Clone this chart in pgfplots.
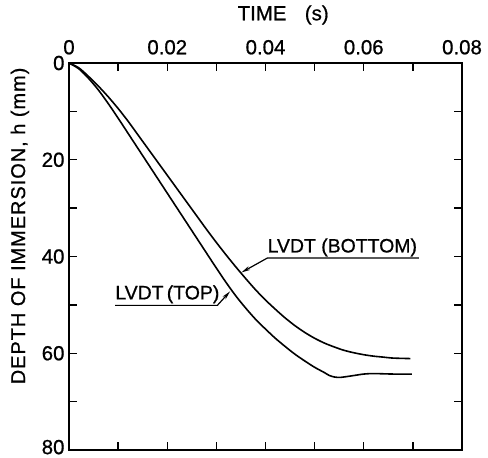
\documentclass[border=0pt]{standalone}
\usepackage{fontspec}
\setmainfont[FakeBold=0.8]{Liberation Sans}
\newfontfamily\spaced[LetterSpace=5,FakeBold=0.8]{Liberation Sans}
\usepackage{pgfplots}
\pgfplotsset{compat=1.18}
\usetikzlibrary{arrows.meta}
\pgfplotstableread{
t h
0 0
0.002 1.2
0.004 3.2
0.006 5.6
0.008 8.4
0.010 11.4
0.012 14.5
0.014 17.6
0.016 20.7
0.018 23.8
0.020 26.9
0.022 30.0
0.024 33.1
0.026 36.2
0.028 39.3
0.030 42.4
0.032 45.4
0.034 48.2
0.036 50.7
0.038 53.0
0.040 55.0
0.042 56.9
0.044 58.6
0.046 60.2
0.048 61.6
0.050 62.9
0.052 64.0
0.053 64.6
0.054 64.9
0.055 65.0
0.056 64.9
0.058 64.6
0.060 64.3
0.062 64.2
0.066 64.3
0.0698 64.3
}\toptable
\pgfplotstableread{
t h
0 0
0.002 1.0
0.004 2.8
0.006 4.8
0.008 7.0
0.010 9.4
0.012 12.0
0.014 14.8
0.016 17.6
0.018 20.4
0.020 23.2
0.022 26.0
0.024 28.8
0.026 31.6
0.028 34.4
0.030 37.1
0.032 39.7
0.034 42.2
0.036 44.6
0.038 46.9
0.040 49.0
0.042 50.9
0.044 52.7
0.046 54.3
0.048 55.7
0.050 56.9
0.052 57.9
0.054 58.7
0.056 59.4
0.058 59.9
0.060 60.3
0.062 60.6
0.064 60.8
0.066 61.0
0.0695 61.1
}\bottomtable
\begin{document}
\begin{tikzpicture}
\begin{axis}[
  scale only axis, width=393bp, height=387bp,
  xmin=0, xmax=0.08, ymin=0, ymax=80, y dir=reverse,
  xtick={0,0.02,0.04,0.06,0.08},
  xticklabels={0,0.02,0.04,0.06,0.08},
  minor xtick={0.01,0.03,0.05,0.07},
  ytick={0,20,40,60,80},
  yticklabels={0,20,40,60,\raisebox{6bp}{80}},
  minor ytick={10,30,50,70},
  xticklabel pos=right,
  tick align=inside,
  major tick length=8bp, minor tick length=8bp,
  tick style={line width=1.3bp, black},
  axis line style={line width=2bp},
  /pgf/number format/assume math mode=true,
  tick label style={font=\fontsize{20.5}{23}\selectfont},
  xticklabel style={yshift=5bp},
  yticklabel style={xshift=-1bp},
  scaled x ticks=false,
  clip=false,
]
\addplot[black, line width=1.6bp, smooth] table[x=t, y=h] {\toptable};
\addplot[black, line width=1.6bp, smooth] table[x=t, y=h] {\bottomtable};
\coordinate (sw) at (axis cs:0,80);
\draw[line width=1.2bp, -{Stealth[length=9bp,width=4bp]}]
  (axis cs:0.0712,40.3) -- (axis cs:0.0404,40.3) -- (axis cs:0.0351,43.3);
\node[anchor=base west, inner sep=0, yshift=5.5bp, font=\fontsize{19.5}{22}\selectfont]
  at (axis cs:0.0404,40.3) {LVDT (BOTTOM)};
\draw[line width=1.2bp, -{Stealth[length=9bp,width=4bp]}]
  (axis cs:0.0094,50.1) -- (axis cs:0.0302,50.1) -- (axis cs:0.0328,47.2);
\node[anchor=base west, inner sep=0, yshift=6bp, font=\fontsize{19.5}{22}\selectfont]
  at (axis cs:0.0094,50.1) {LVDT\,(TOP)};
\node[font=\fontsize{20.5}{24}\selectfont, yshift=48bp] at (axis description cs:0.545,1)
  {TIME\hspace{0.9em}(s)};
\node[rotate=90, font=\fontsize{20}{24}\spaced] at (axis description cs:-0.125,0.579)
  {DEPTH OF IMMERSION, h (mm)};
\end{axis}
\pgfresetboundingbox
\useasboundingbox ([xshift=-69bp,yshift=-8bp]sw) rectangle ([xshift=419bp,yshift=450bp]sw);
\end{tikzpicture}
\end{document}
